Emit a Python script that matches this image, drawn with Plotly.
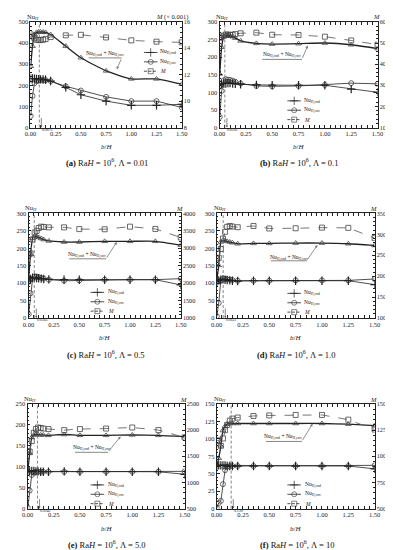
import plotly.graph_objects as go

W, H = 393, 550

# ---------------- data ----------------
x_bh = [0.002, 0.02, 0.04, 0.06, 0.08, 0.1, 0.125, 0.15, 0.2, 0.35, 0.5, 0.75, 1.0, 1.25, 1.5]
x_ticks = [0, 0.25, 0.5, 0.75, 1.0, 1.25, 1.5]

# (a) Ra=1e6, Lambda=0.01  (M in x0.001)
a_cnd = [232, 232, 231, 230, 229, 228, 227, 226, 220, 190, 155, 125, 105, 105, 110]
a_cnv = [55, 150, 210, 220, 222, 225, 225, 224, 220, 195, 175, 145, 125, 125, 95]
a_tot = [290, 385, 440, 450, 452, 452, 452, 450, 440, 385, 330, 268, 230, 230, 205]
a_M = [15.05, 14.9, 14.75, 14.65, 14.62, 14.62, 14.65, 14.7, 14.85, 14.98, 15.02, 14.82, 14.6, 14.5, 14.45]

# (b) Lambda=0.1
b_cnd = [122, 124, 125, 125, 126, 126, 125, 124, 123, 121, 120, 120, 120, 109, 100]
b_cnv = [30, 104, 134, 137, 136, 135, 133, 130, 125, 118, 117, 118, 121, 126, 124]
b_tot = [152, 228, 258, 262, 262, 261, 258, 254, 246, 239, 237, 238, 240, 235, 224]
b_M = [5250, 5300, 5350, 5400, 5400, 5380, 5390, 5420, 5460, 5490, 5390, 5380, 5300, 5120, 4920]

# (c) Lambda=0.5
c_cnd = [106, 112, 116, 116, 115, 114, 113, 112, 111, 110, 110, 110, 110, 110, 95]
c_cnv = [11, 71, 113, 119, 118, 117, 115, 113, 110, 107, 108, 110, 110, 110, 113]
c_tot = [117, 183, 229, 235, 233, 231, 228, 225, 221, 218, 218, 220, 220, 220, 209]
c_M = [2820, 2850, 3250, 3450, 3500, 3580, 3620, 3610, 3600, 3600, 3550, 3545, 3620, 3555, 3310]

# (d) Lambda=1.0
d_cnd = [104, 108, 110, 111, 110, 109, 108, 107, 106, 107, 107, 107, 107, 107, 96]
d_cnv = [5, 43, 108, 112, 112, 111, 110, 109, 107, 107, 107, 108, 108, 108, 112]
d_tot = [109, 151, 218, 223, 222, 220, 218, 216, 213, 214, 214, 215, 215, 213, 208]
d_M = [2420, 2440, 2650, 2900, 3060, 3180, 3200, 3185, 3170, 3200, 3140, 3145, 3160, 3155, 2910]

# (e) Lambda=5.0
e_cnd = [88, 89, 90, 90, 89, 89, 88, 88, 88, 89, 88, 88, 88, 88, 82]
e_cnv = [2, 43, 80, 86, 88, 88, 88, 88, 88, 88, 88, 88, 88, 88, 89]
e_tot = [90, 132, 170, 176, 177, 177, 176, 176, 175, 177, 175, 175, 176, 175, 172]
e_M = [1595, 1590, 1790, 1950, 2020, 2050, 2040, 2030, 2020, 2000, 2020, 2030, 2050, 2000, 1860]

# (f) Lambda=10
f_cnd = [61, 62, 62, 62, 62, 61, 61, 61, 61, 61, 61, 61, 61, 61, 57]
f_cnv = [1, 8, 11, 35, 55, 60, 61, 61, 61, 61, 61, 61, 61, 61, 62]
f_tot = [62, 72, 90, 112, 118, 121, 122, 122, 122, 122, 122, 122, 122, 121, 119]
f_M = [1150, 1150, 1100, 1170, 1250, 1300, 1340, 1360, 1370, 1385, 1390, 1395, 1395, 1350, 1255]

critical_bh = [0.0875, 0.0502, 0.0565, 0.0622, 0.0943, 0.138]
critical_lbl = ["0.0875", "0.0502", "0.0565", "0.0622", "0.0943", "0.138"]
captions = [
    "<b>(a)</b> Ra<i>H</i> = 10<sup>6</sup>, Λ = 0.01",
    "<b>(b)</b> Ra<i>H</i> = 10<sup>6</sup>, Λ = 0.1",
    "<b>(c)</b> Ra<i>H</i> = 10<sup>6</sup>, Λ = 0.5",
    "<b>(d)</b> Ra<i>H</i> = 10<sup>6</sup>, Λ = 1.0",
    "<b>(e)</b> Ra<i>H</i> = 10<sup>6</sup>, Λ = 5.0",
    "<b>(f)</b> Ra<i>H</i> = 10<sup>6</sup>, Λ = 10",
]
right_titles = ["<i>M</i> (× 0.001)", "<i>M</i>", "<i>M</i>", "<i>M</i>", "<i>M</i>", "<i>M</i>"]

series = [
    (a_cnd, a_cnv, a_tot, a_M),
    (b_cnd, b_cnv, b_tot, b_M),
    (c_cnd, c_cnv, c_tot, c_M),
    (d_cnd, d_cnv, d_tot, d_M),
    (e_cnd, e_cnv, e_tot, e_M),
    (f_cnd, f_cnv, f_tot, f_M),
]

# ---------------- layout (pixels) ----------------
boxes = [
    (17, 173, 10, 117), (212, 375, 10, 117),
    (15, 172, 204, 310), (209, 372, 204, 310),
    (14, 176, 397, 503), (209, 372, 397, 503),
]
left_axes = [(0, 500, 100), (0, 300, 50), (0, 300, 50), (0, 300, 50), (0, 250, 50), (0, 150, 25)]
right_axes = [(8, 16, 2), (1000, 6000, 1000), (1000, 4000, 500), (1000, 3500, 500), (500, 2500, 500), (500, 1500, 250)]
legend_pos = [(141, 149, 41), (289, 297, 90), (86, 95, 284), (289, 297, 285), (86, 95, 479), (289, 298, 479)]
tot_lbl = [
    ((94, 43), (77, 111, 46.5), (106, 58)),
    ((276, 44), (256, 297, 48), (303, 34)),
    ((75, 246), (57, 95, 250), (106, 233)),
    ((284, 249), (265, 302, 252), (313, 236)),
    ((80, 442), (63, 97, 446), (110, 430)),
    ((277, 430), (260, 297, 435), (308, 417)),
]
caption_y = [152, 152, 347, 347, 539, 539]
bh_y = [137, 137, 330, 330, 524, 524]

FONT = "Liberation Serif"
INK = "#222"


def px(xp, yp):
    return xp / W, 1 - yp / H


fig = go.Figure()
layout = {}
shapes = []
annotations = []

for i in range(6):
    n = i + 1
    xa = "x" if n == 1 else f"x{n}"
    ya = "y" if n == 1 else f"y{n}"
    yr = f"y{n + 6}"
    x0, x1, yt, yb = boxes[i]
    lo, hi, dl = left_axes[i]
    rlo, rhi, dr = right_axes[i]
    cnd, cnv, tot, M = series[i]

    def to_data(xp, yp):
        xd = (xp - x0) / (x1 - x0) * 1.5
        yd = lo + (yb - yp) / (yb - yt) * (hi - lo)
        return xd, yd

    layout["xaxis" if n == 1 else f"xaxis{n}"] = dict(
        domain=[x0 / W, x1 / W], range=[0, 1.5], tickvals=x_ticks, tickformat=".2f",
        ticks="inside", ticklen=3, tickwidth=0.7, tickcolor=INK,
        minor=dict(ticks="inside", ticklen=1.6, dtick=0.05, tickcolor=INK, tickwidth=0.6),
        showline=True, linecolor=INK, linewidth=0.8, mirror="allticks",
        showgrid=False, zeroline=False, anchor=ya,
        tickfont=dict(size=6.5, family=FONT, color=INK), fixedrange=True,
    )
    layout["yaxis" if n == 1 else f"yaxis{n}"] = dict(
        domain=[1 - yb / H, 1 - yt / H], range=[lo, hi], dtick=dl, tick0=0,
        ticks="inside", ticklen=3, tickwidth=0.7, tickcolor=INK,
        minor=dict(ticks="inside", ticklen=1.6, dtick=dl / 5, tickcolor=INK, tickwidth=0.6),
        showline=True, linecolor=INK, linewidth=0.8, showgrid=False, zeroline=False,
        anchor=xa, side="left", tickfont=dict(size=6.5, family=FONT, color=INK),
    )
    layout[f"yaxis{n + 6}"] = dict(
        range=[rlo, rhi], dtick=dr, tick0=rlo, overlaying=ya, side="right", anchor=xa,
        ticks="inside", ticklen=3, tickwidth=0.7, tickcolor=INK,
        minor=dict(ticks="inside", ticklen=1.6, dtick=dr / 5, tickcolor=INK, tickwidth=0.6),
        showline=True, linecolor=INK, linewidth=0.8, showgrid=False, zeroline=False,
        tickfont=dict(size=6.2, family=FONT, color=INK),
    )

    fig.add_trace(go.Scatter(x=x_bh, y=M, xaxis=xa, yaxis=yr, mode="lines+markers",
                             line=dict(color="#666", width=0.9, dash="dash"),
                             marker=dict(symbol="square-open", size=5, color="#444", line=dict(width=0.8)),
                             showlegend=False))
    fig.add_trace(go.Scatter(x=x_bh, y=tot, xaxis=xa, yaxis=ya, mode="lines+markers",
                             line=dict(color=INK, width=1.3, shape="spline", smoothing=0.5),
                             marker=dict(symbol="triangle-up-open", size=5, color="#444", line=dict(width=0.8)),
                             showlegend=False))
    fig.add_trace(go.Scatter(x=x_bh, y=cnv, xaxis=xa, yaxis=ya, mode="lines+markers",
                             line=dict(color=INK, width=0.8),
                             marker=dict(symbol="circle-open", size=5, color="#444", line=dict(width=0.8)),
                             showlegend=False))
    fig.add_trace(go.Scatter(x=x_bh, y=cnd, xaxis=xa, yaxis=ya, mode="lines+markers",
                             line=dict(color=INK, width=0.8),
                             marker=dict(symbol="cross-thin-open", size=6, color=INK, line=dict(width=1.2, color=INK)),
                             showlegend=False))

    # legend keys
    kx, tx, ky = legend_pos[i]
    keys = [("cross-thin-open", "solid", "Nu<sub>H,cnd</sub>", 6),
            ("circle-open", "solid", "Nu<sub>H,cnv</sub>", 5),
            ("square-open", "dash", "<i>M</i>", 5)]
    for k, (sym, dash, txt, sz) in enumerate(keys):
        yy = ky + k * 9.5
        xa0, yd = to_data(kx - 7, yy)
        xa1, _ = to_data(kx + 7, yy)
        xm, _ = to_data(kx, yy)
        fig.add_trace(go.Scatter(x=[xa0, xm, xa1], y=[yd, yd, yd], xaxis=xa, yaxis=ya,
                                 mode="lines+markers",
                                 line=dict(color=INK, width=0.8, dash="solid" if dash == "solid" else "3px,1.5px"),
                                 marker=dict(symbol=sym, size=[0, sz, 0], color=INK,
                                             line=dict(width=1.0 if "cross" in sym else 0.8, color=INK)),
                                 showlegend=False, hoverinfo="skip"))
        ax_, ay_ = px(tx, yy)
        annotations.append(dict(x=ax_, y=ay_, xref="paper", yref="paper", text=txt, showarrow=False,
                                xanchor="left", yanchor="middle", font=dict(size=5.5, family=FONT, color=INK)))

    # critical b/H dashed line
    shapes.append(dict(type="line", xref=xa, yref=f"{ya} domain", x0=critical_bh[i], x1=critical_bh[i],
                       y0=0, y1=1, line=dict(color="#666", width=0.8, dash="3px,2px")))
    annotations.append(dict(x=critical_bh[i] + 0.02, y=0, xref=xa, yref=f"{ya} domain", text="",
                            showarrow=True, arrowhead=2, arrowsize=0.6, arrowwidth=0.7, arrowcolor="#555",
                            ax=0, ay=-11, standoff=0))
    annotations.append(dict(x=critical_bh[i] + 0.005, y=1 - (yb + 2.2) / H, xref=xa, yref="paper",
                            text=critical_lbl[i], showarrow=False, xanchor="left", yanchor="middle",
                            font=dict(size=3.8, family=FONT, color=INK)))

    # total label with underline + arrow
    (tcx, tcy), (ux0, ux1, uy), (hx, hy) = tot_lbl[i]
    pxx, pyy = px(tcx, tcy)
    annotations.append(dict(x=pxx, y=pyy, xref="paper", yref="paper",
                            text="Nu<sub>H,cnd</sub> + Nu<sub>H,cnv</sub>", showarrow=False,
                            xanchor="center", yanchor="middle", font=dict(size=5.5, family=FONT, color=INK)))
    s0 = px(ux0, uy)
    s1 = px(ux1, uy)
    shapes.append(dict(type="line", xref="paper", yref="paper", x0=s0[0], x1=s1[0], y0=s0[1], y1=s1[1],
                       line=dict(color="#555", width=0.7)))
    hxp, hyp = px(hx, hy)
    annotations.append(dict(x=hxp, y=hyp, xref="paper", yref="paper", text="", showarrow=True,
                            arrowhead=2, arrowsize=0.7, arrowwidth=0.8, arrowcolor="#777",
                            ax=ux1 - hx, ay=uy - hy, standoff=0))

    # axis titles
    tlx, tly = px(x0 + 3, yt - 5)
    annotations.append(dict(x=tlx, y=tly, xref="paper", yref="paper", text="Nu<sub><i>H</i></sub>",
                            showarrow=False, xanchor="center", yanchor="middle",
                            font=dict(size=6.5, family=FONT, color=INK)))
    trx, try_ = px(x1 - (10 if n == 1 else 1), yt - 5)
    annotations.append(dict(x=trx, y=try_, xref="paper", yref="paper", text=right_titles[i],
                            showarrow=False, xanchor="center", yanchor="middle",
                            font=dict(size=6.5, family=FONT, color=INK)))
    bx, by = px((x0 + x1) / 2, bh_y[i])
    annotations.append(dict(x=bx, y=by, xref="paper", yref="paper", text="<i>b</i>/<i>H</i>",
                            showarrow=False, xanchor="center", yanchor="middle",
                            font=dict(size=7, family=FONT, color=INK)))
    cx, cy = px((x0 + x1) / 2 + 1, caption_y[i])
    annotations.append(dict(x=cx, y=cy, xref="paper", yref="paper", text=captions[i],
                            showarrow=False, xanchor="center", yanchor="middle",
                            font=dict(size=8.5, family=FONT, color="#111")))

fig.update_layout(
    width=W, height=H, margin=dict(l=0, r=0, t=0, b=0),
    paper_bgcolor="white", plot_bgcolor="white",
    showlegend=False, shapes=shapes, annotations=annotations,
    font=dict(family=FONT, color=INK),
    **layout,
)

fig.write_html("out.html", config={"displayModeBar": False})
